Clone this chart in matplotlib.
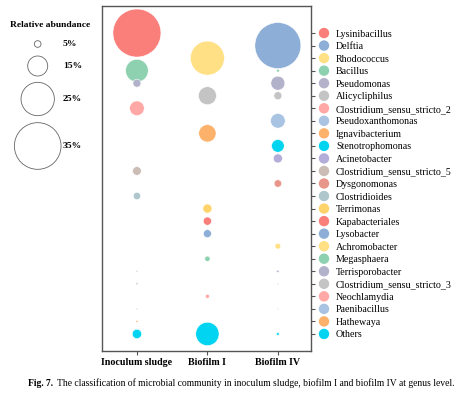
import matplotlib
matplotlib.use("Agg")
import matplotlib.pyplot as plt
import numpy as np

plt.rcParams['font.family'] = ['Liberation Serif', 'DejaVu Serif']

samples = ["Inoculum sludge", "Biofilm I", "Biofilm IV"]
genera = ["Lysinibacillus", "Delftia", "Rhodococcus", "Bacillus", "Pseudomonas",
          "Alicycliphilus", "Clostridium_sensu_stricto_2", "Pseudoxanthomonas",
          "Ignavibacterium", "Stenotrophomonas", "Acinetobacter",
          "Clostridium_sensu_stricto_5", "Dysgonomonas", "Clostridioides",
          "Terrimonas", "Kapabacteriales", "Lysobacter", "Achromobacter",
          "Megasphaera", "Terrisporobacter", "Clostridium_sensu_stricto_3",
          "Neochlamydia", "Paenibacillus", "Hathewaya", "Others"]
colors = ["#FA7F7A", "#8DAED6", "#FFE084", "#8ED1B0", "#B3B2CB",
          "#C4C4C4", "#FFA8A5", "#A9C3E3", "#FDB26B", "#00D4F0",
          "#B2AED9", "#CBBCB6", "#E8958A", "#AFC6CC", "#FFD36B",
          "#FA7F7A", "#8DAED6", "#FFE084", "#8ED1B0", "#B3B2CB",
          "#C4C4C4", "#FFA8A5", "#A9C3E3", "#FDB26B", "#00D4F0"]

inoculum = [36.0, 0, 0, 17.0, 6.0, 0, 11.0, 0, 0, 0, 0, 6.5, 0, 5.5,
            0, 0, 0, 0, 0, 1.3, 1.6, 0, 1.3, 1.5, 7.0]
biofilm1 = [0, 0, 25.5, 0, 0, 13.5, 0, 0, 13.0, 0, 0, 0, 0, 0,
            6.8, 6.2, 6.0, 0, 4.0, 0, 0, 3.0, 0, 0, 17.5]
biofilm4 = [0, 34.5, 0, 2.2, 10.5, 6.0, 0, 11.0, 0, 9.5, 6.8, 0, 5.6, 0,
            0, 0, 0, 4.3, 0, 1.8, 1.2, 0, 1.0, 0, 2.0]
legend_sizes = [5, 15, 25, 35]
legend_labels = ["5%", "15%", "25%", "35%"]

def size(v):
    return (0.96 * np.asarray(v, dtype=float)) ** 2

W, H = 463, 393
fig = plt.figure(figsize=(W / 100, H / 100), dpi=100)
ax = fig.add_axes([101.7 / W, 1 - 351 / H, (311 - 101.7) / W, (351 - 5.7) / H])

rows = np.arange(len(genera))
for j, vals in enumerate([inoculum, biofilm1, biofilm4]):
    vals = np.asarray(vals)
    m = vals > 0
    ax.scatter(np.full(m.sum(), j), rows[m], s=size(vals[m]),
               c=np.array(colors)[m], edgecolors="white", linewidths=0.4, zorder=3)

ax.set_xlim(-0.5, 2.47)
ax.set_ylim(25.36, -2.18)
ax.set_xticks(range(3))
ax.set_xticklabels(samples, fontsize=7.2, fontweight="bold")
ax.tick_params(axis="x", length=3, width=0.8, color="#555555", pad=2)

ax.yaxis.tick_right()
ax.set_yticks(rows)
ax.set_yticklabels(genera, fontsize=7.2)
ax.tick_params(axis="y", length=3, width=0.8, color="#555555", pad=15)
for sp in ax.spines.values():
    sp.set_color("#555555")
    sp.set_linewidth(1.0)

# colored markers in the right legend
trans = matplotlib.transforms.blended_transform_factory(ax.transAxes, ax.transData)
ax.scatter(np.full(len(genera), (324 - 101.7) / (311 - 101.7)), rows, s=42,
           c=colors, transform=trans, clip_on=False, zorder=4)

# size legend
lax = fig.add_axes([0, 0, 1, 1], zorder=-1)
lax.set_xlim(0, W)
lax.set_ylim(H, 0)
lax.axis("off")
lax.text(50, 25, "Relative abundance", ha="center", va="center",
         fontsize=6.8, fontweight="bold")
ly = [44, 66, 99, 146]
lax.scatter([37.7] * 4, ly, s=size(legend_sizes), facecolors="white",
            edgecolors="#666666", linewidths=0.6)
for y, lab in zip(ly, legend_labels):
    lax.text(63, y, lab, ha="left", va="center", fontsize=6.8, fontweight="bold")

t1 = lax.text(28, 383, "Fig. 7.", ha="left", va="center", fontsize=6.9, fontweight="bold")
fig.canvas.draw()
bb = t1.get_window_extent()
x_end = bb.x1 + 4  # pixels
lax.text(x_end, 383, "The classification of microbial community in inoculum sludge, "
         "biofilm I and biofilm IV at genus level.", ha="left", va="center",
         fontsize=6.9)

fig.savefig("out.png", dpi=100)
